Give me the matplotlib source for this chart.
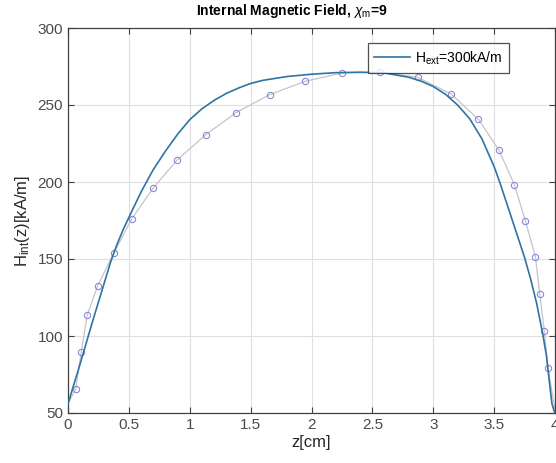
import matplotlib
matplotlib.use("Agg")
import matplotlib.pyplot as plt
import numpy as np

plt.rcParams['font.family'] = ['Liberation Sans', 'DejaVu Sans']
plt.rcParams['mathtext.fontset'] = 'custom'
plt.rcParams['mathtext.rm'] = 'Liberation Sans'
plt.rcParams['mathtext.it'] = 'Liberation Sans:italic'
plt.rcParams['mathtext.bf'] = 'Liberation Sans:bold'

# Solid curve (H_ext = 300 kA/m)
z_solid = [0.0, 0.05, 0.1, 0.15, 0.2, 0.25, 0.3, 0.35, 0.4, 0.45, 0.5, 0.6, 0.7, 0.8,
           0.9, 1.0, 1.1, 1.2, 1.3, 1.4, 1.5, 1.6, 1.8, 2.0, 2.2, 2.4, 2.6, 2.8, 2.9,
           3.0, 3.1, 3.2, 3.3, 3.4, 3.5, 3.55, 3.6, 3.65, 3.7, 3.75, 3.8, 3.85, 3.9,
           3.93, 3.96, 3.975, 3.99, 4.0]
H_solid = [56, 69, 82, 95.5, 109, 122, 135, 148, 159, 168.5, 177, 193.5, 208, 220,
           231, 240.5, 247.5, 253, 257.5, 261, 264, 266, 268.5, 270, 271, 271.3, 270.8,
           268, 265.5, 262, 257, 250, 241, 228, 210, 199, 187, 175, 163, 151, 137, 121,
           101, 87, 66, 56, 52, 50]

# Marker curve
z_mark = [0.0, 0.063, 0.109, 0.158, 0.243, 0.377, 0.523, 0.699, 0.899, 1.131, 1.380, 1.656,
          1.948, 2.252, 2.563, 2.871, 3.148, 3.371, 3.541, 3.667, 3.757, 3.839, 3.875,
          3.912, 3.943, 4.0]
H_mark = [56, 65.6, 89.6, 113.6, 132.5, 154, 176, 196, 214.5, 230.7, 245, 256.7,
          265.4, 270.8, 271.4, 268, 257.1, 240.7, 220.5, 198.1, 174.7, 151.5, 127.3,
          103.2, 79, 52]

x_ticks = [0, 0.5, 1, 1.5, 2, 2.5, 3, 3.5, 4]
x_tick_labels = ['0', '0.5', '1', '1.5', '2', '2.5', '3', '3.5', '4']
y_ticks = [50, 100, 150, 200, 250, 300]

fig = plt.figure(figsize=(5.56, 4.63), dpi=100)
ax = fig.add_axes([68/556, 1 - 413/463, (555-68)/556, (413-28)/463])

ax.plot(z_mark, H_mark, color='#c4c4cc', lw=0.9, marker='o', ms=4.5,
        mfc='none', mec='#8a8ad6', mew=0.8, markevery=list(range(1, len(z_mark)-1)),
        zorder=2)
ax.plot(z_solid, H_solid, color='#2f74a2', lw=1.2, label=r'H$_{\rm ext}$=300kA/m', zorder=3)

ax.set_xlim(0, 4)
ax.set_ylim(50, 300)
ax.set_xticks(x_ticks)
ax.set_xticklabels(x_tick_labels)
ax.set_yticks(y_ticks)
ax.grid(True, color='#e0e0e0', lw=0.8)
ax.set_axisbelow(True)
ax.tick_params(direction='in', top=True, right=True, length=4, width=0.8,
               colors='#404040', labelsize=11, labelcolor='#4a4a4a')
for s in ax.spines.values():
    s.set_color('#404040')
    s.set_linewidth(0.9)

ax.set_xlabel('z[cm]', fontsize=12, color='#262626', labelpad=2)
ax.set_ylabel(r'H$_{\rm int}$(z)[kA/m]', fontsize=12, color='#262626', labelpad=4)

leg = ax.legend(loc='upper right', bbox_to_anchor=(0.906, 0.961), borderaxespad=0,
                fontsize=10, frameon=True, fancybox=False, handlelength=2.6,
                handletextpad=0.4, borderpad=0.45)
leg.get_frame().set_edgecolor('#262626')
leg.get_frame().set_linewidth(0.9)

fig.text(292/556, 1 - 11/463, r'Internal Magnetic Field, $\chi_{\rm m}$=9',
         ha='center', va='center', fontsize=10, fontweight='bold')

fig.savefig('out.png', dpi=100)
